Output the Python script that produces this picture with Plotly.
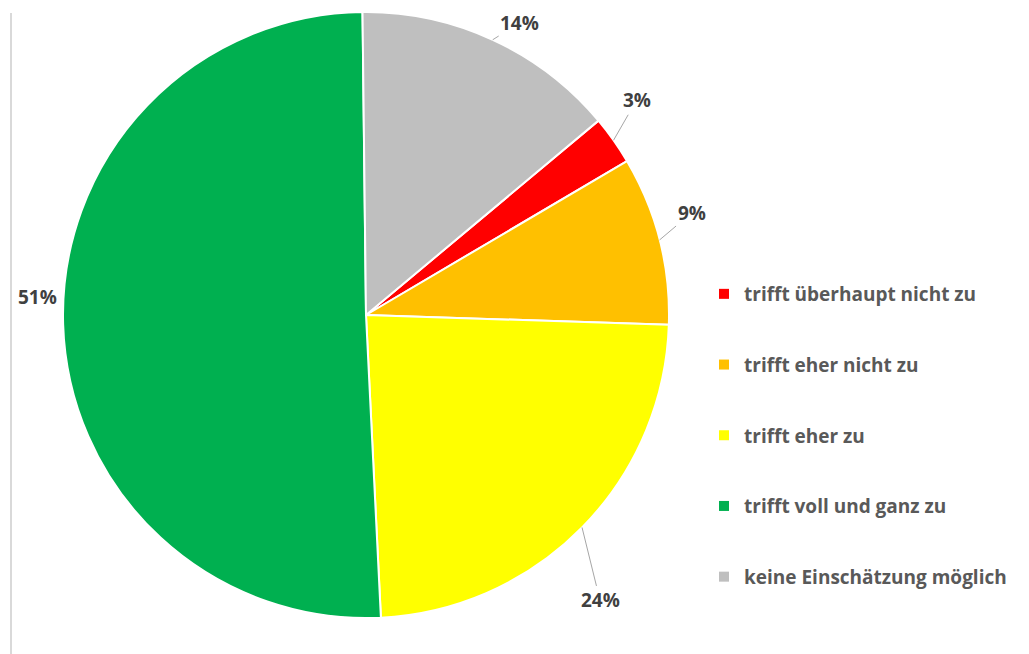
import math
import plotly.graph_objects as go

# ---- data ----
categories = ["trifft überhaupt nicht zu", "trifft eher nicht zu", "trifft eher zu",
              "trifft voll und ganz zu", "keine Einschätzung möglich"]
values = [2.6, 9.0, 23.7, 50.6, 14.1]
colors = ["#FF0000", "#FFC000", "#FFFF00", "#00B050", "#BFBFBF"]

# ---- layout constants (screen pixels; page body has an 8px margin) ----
W, H = 1029, 654
OFF = 8
CX, CY, R = 366 - OFF, 315 - OFF, 303
ROTATION = 50.1
# text offset from slice-edge midpoint (px, +y down)
label_offsets = [(23, -40), (32, -27), (18, 73), (-26, -27), (27, -17)]
show_leader = [True, True, True, False, True]

fig = go.Figure()
fig.add_trace(go.Pie(
    labels=categories, values=values, sort=False, direction="clockwise",
    rotation=ROTATION, textinfo="none", showlegend=False, hoverinfo="label+percent",
    marker=dict(colors=colors, line=dict(color="white", width=2)),
    domain=dict(x=[(CX - R) / W, (CX + R) / W], y=[1 - (CY + R) / H, 1 - (CY - R) / H]),
))

for c, col in zip(categories, colors):
    fig.add_trace(go.Scatter(
        x=[None], y=[None], mode="markers", name=c, legendgroup=c,
        marker=dict(symbol="square", size=10, color=col), showlegend=True,
    ))

total = sum(values)
start = ROTATION
annotations = []
for v, (dx, dy), lead in zip(values, label_offsets, show_leader):
    span = 360 * v / total
    mid = math.radians(start + span / 2)
    start += span
    px = CX + R * math.sin(mid)
    py = CY - R * math.cos(mid)
    txt = f"{round(100 * v / total)}%"
    common = dict(x=px / W, y=1 - py / H, xref="paper", yref="paper", text=txt,
                  font=dict(family="Open Sans", size=19, color="#404040", weight="bold"))
    if lead:
        annotations.append(dict(**common, showarrow=True, ax=dx, ay=dy, arrowhead=0,
                                arrowwidth=1, arrowcolor="#A6A6A6", standoff=0))
    else:
        annotations.append(dict(**common, showarrow=False, xanchor="center", yanchor="middle",
                                xshift=dx, yshift=-dy))

fig.update_layout(
    width=W, height=H,
    margin=dict(l=0, r=0, t=0, b=0),
    paper_bgcolor="white", plot_bgcolor="white",
    xaxis=dict(visible=False), yaxis=dict(visible=False),
    annotations=annotations,
    legend=dict(x=(704 - OFF) / W, y=1 - (275 - OFF) / H, xanchor="left", yanchor="top",
                tracegroupgap=43, traceorder="grouped",
                font=dict(family="Open Sans", size=19, color="#595959", weight="bold"),
                bgcolor="rgba(0,0,0,0)"),
    shapes=[
        dict(type="line", xref="paper", yref="paper", x0=(11 - OFF) / W, x1=(11 - OFF) / W,
             y0=0, y1=1 - 5 / H, line=dict(color="#D9D9D9", width=2)),
    ],
)

fig.write_html("out.html")
